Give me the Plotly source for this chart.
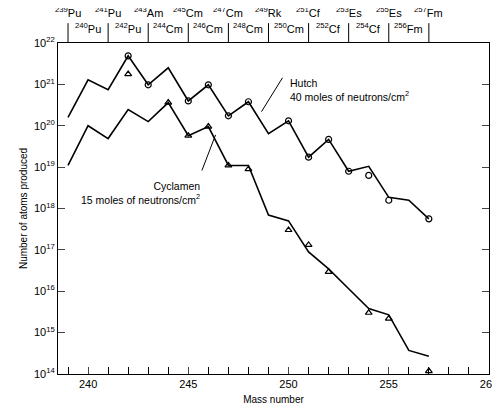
import plotly.graph_objects as go

# Mass numbers and log10(atoms produced)
mass = list(range(239, 258))
hutch_log = [20.2, 21.11, 20.87, 21.69, 20.99, 21.4, 20.6, 20.99, 20.24, 20.58,
             19.81, 20.12, 19.24, 19.67, 18.9, 19.02, 18.27, 18.2, 17.75]
cycl_log = [19.04, 20.0, 19.69, 20.39, 20.1, 20.56, 19.76, 19.98, 19.04, 19.04,
            17.84, 17.7, 16.95, 16.54, 16.06, 15.58, 15.43, 14.57, 14.43]

# measured points (markers)
hutch_pts_x = [242, 243, 245, 246, 247, 248, 250, 251, 252, 253, 254, 255, 257]
hutch_pts_log = [21.69, 20.99, 20.6, 20.99, 20.24, 20.58, 20.12, 19.24, 19.67,
                 18.9, 18.8, 18.2, 17.75]
cycl_pts_x = [242, 244, 245, 246, 247, 248, 250, 251, 252, 254, 255, 257]
cycl_pts_log = [21.25, 20.56, 19.76, 19.98, 19.04, 18.95, 17.48, 17.12, 16.47,
                15.48, 15.34, 14.07]

isotopes = ["Pu", "Pu", "Pu", "Pu", "Am", "Cm", "Cm", "Cm", "Cm", "Cm", "Rk",
            "Cm", "Cf", "Cf", "Es", "Cf", "Es", "Fm", "Fm"]
decades = list(range(14, 23))

FONT = "Liberation Sans, Arial, sans-serif"

fig = go.Figure()
fig.add_trace(go.Scatter(x=mass, y=[10.0 ** v for v in hutch_log], mode="lines",
                         line=dict(color="black", width=1.6)))
fig.add_trace(go.Scatter(x=mass, y=[10.0 ** v for v in cycl_log], mode="lines",
                         line=dict(color="black", width=1.6)))
fig.add_trace(go.Scatter(x=hutch_pts_x, y=[10.0 ** v for v in hutch_pts_log], mode="markers",
                         marker=dict(symbol="circle-open", size=6, color="black",
                                     line=dict(width=1.2))))
fig.add_trace(go.Scatter(x=cycl_pts_x, y=[10.0 ** v for v in cycl_pts_log], mode="markers",
                         marker=dict(symbol="triangle-up-open", size=6, color="black",
                                     line=dict(width=1.2))))
# pointer lines for the labels
fig.add_trace(go.Scatter(x=[249.7, 248.65], y=[10.0 ** 21.16, 10.0 ** 20.34], mode="lines",
                         line=dict(color="black", width=1)))
fig.add_trace(go.Scatter(x=[245.68, 246.36], y=[10.0 ** 18.92, 10.0 ** 19.78], mode="lines",
                         line=dict(color="black", width=1)))

fig.update_layout(
    width=500, height=405, showlegend=False,
    margin=dict(l=50, r=10, t=35, b=38),
    paper_bgcolor="white", plot_bgcolor="white",
    font=dict(family=FONT, size=11, color="black"),
    xaxis=dict(range=[238.5, 260], tickvals=[240, 245, 250, 255, 260],
               ticks="inside", ticklen=7, showline=True, linecolor="black",
               linewidth=1.2, mirror=True, showgrid=False, zeroline=False,
               minor=dict(dtick=1, ticks="inside", ticklen=7, tickcolor="black"),
               title=dict(text="Mass number", font=dict(size=10), standoff=6)),
    yaxis=dict(type="log", range=[14, 22], tickvals=[10.0 ** d for d in decades],
               ticktext=["10<sup>%d</sup>" % d for d in decades],
               ticks="inside", ticklen=7, showline=True, linecolor="black",
               linewidth=1.2, mirror="ticks", showgrid=False, zeroline=False,
               title=dict(text="Number of atoms produced", font=dict(size=10),
                          standoff=4)),
)

# top isotope labels, two staggered rows
for m, iso in zip(mass, isotopes):
    upper = m % 2 == 1
    fig.add_annotation(x=m, xref="x", y=1.0, yref="paper", yshift=22 if upper else 6,
                       text="<sup>%d</sup>%s" % (m, iso), showarrow=False,
                       xanchor="center", yanchor="bottom", font=dict(size=11))
    if upper:
        fig.add_shape(type="line", xref="x", yref="paper", x0=m, x1=m, y0=1.0, y1=1.06,
                      line=dict(color="black", width=1))

fig.add_annotation(x=(285 - 50) / 440, xref="paper", y=(367 - 82) / 332, yref="paper",
                   text="Hutch<br>40 moles of neutrons/cm<sup>2</sup>", showarrow=False,
                   xanchor="left", yanchor="middle", align="left", font=dict(size=10.5))
fig.add_annotation(x=(197 - 50) / 440, xref="paper", y=(367 - 185) / 332, yref="paper",
                   text="Cyclamen<br>15 moles of neutrons/cm<sup>2</sup>", showarrow=False,
                   xanchor="right", yanchor="middle", align="right", font=dict(size=10.5))

fig.write_html("out.html")
